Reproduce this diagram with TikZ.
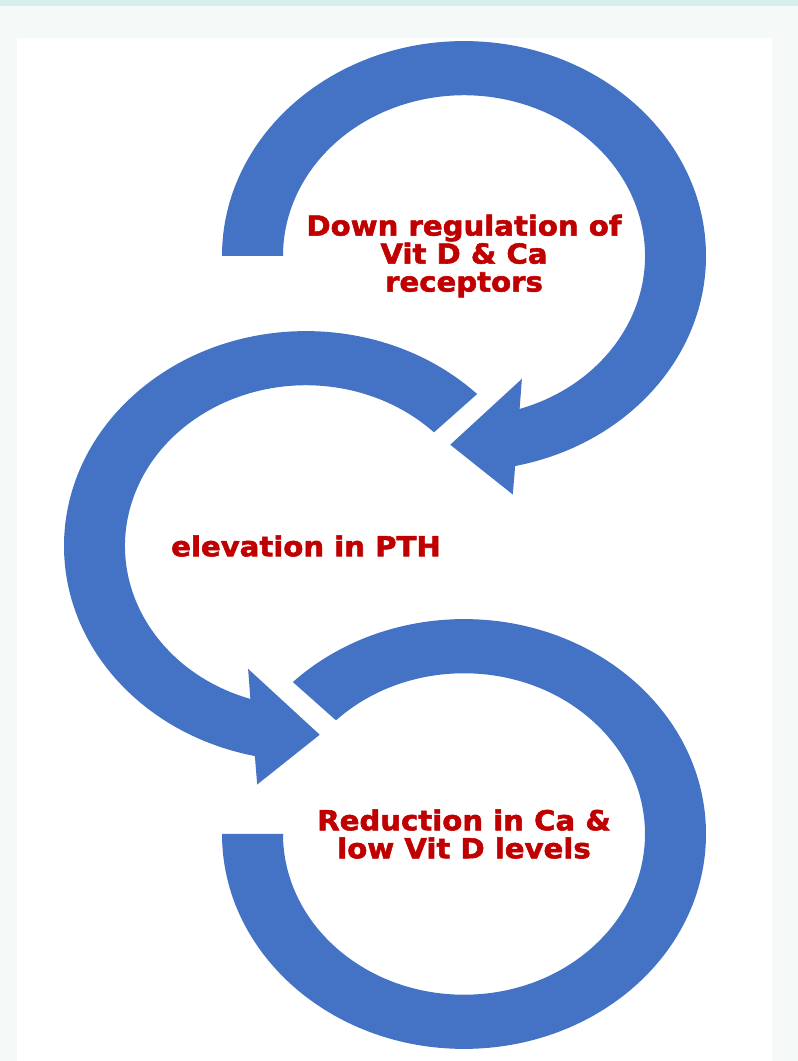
\documentclass[tikz,border=0pt]{standalone}
\usepackage{xcolor}
\usepackage{fontspec}
\newfontfamily\cyclefont{DejaVu Sans}[FakeStretch=1.06, FakeBold=2]

\definecolor{ringblue}{HTML}{4472C4}
\definecolor{textred}{HTML}{C00000}
\definecolor{pagebg}{HTML}{F5F9F8}
\definecolor{topband}{HTML}{D5EFEC}

\tikzset{
  ring/.style={fill=ringblue, draw=none},
  steptext/.style={text=textred, align=center, inner sep=0pt,
    font=\cyclefont\bfseries\fontsize{27.5}{28}\selectfont}
}

\begin{document}
\begin{tikzpicture}[x=1pt, y=1pt] % Tikz environment
\fill[pagebg] (0,0) rectangle (798,1061);
\fill[topband] (0,1055) rectangle (798,1061);
\fill[white] (17,0) rectangle (772,1023);
\useasboundingbox (0,0) rectangle (798,1061);

\node[steptext] (down) at (464,805) {Down regulation of\\Vit D \& Ca\\receptors};
\node[steptext] (pth) at (306,515) {elevation in PTH};
\node[steptext] (low) at (464,227) {Reduction in Ca \&\\low Vit D levels};

% top ring, clockwise, head pointing into the middle ring
\begin{scope}[shift={(down.center)}, yscale=0.888]
\fill[ring] (180:242) arc[start angle=180, end angle=-77.8, radius=242]
  -- (-79.7:273) -- (-93.7:213) -- (-67.3:150) -- (-72.1:181)
  arc[start angle=-72.1, end angle=180, radius=181] -- cycle;
\end{scope}

% middle ring, anticlockwise
\begin{scope}[shift={(pth.center)}, yscale=0.888]
\fill[ring] (45:242) arc[start angle=45, end angle=257.8, radius=242]
  -- (259.7:273) -- (273.7:213) -- (247.3:150) -- (252.1:181)
  arc[start angle=252.1, end angle=45, radius=181] -- cycle;
\end{scope}

% bottom ring, no head
\begin{scope}[shift={(low.center)}, yscale=0.888]
\fill[ring] (180:242) arc[start angle=180, end angle=495, radius=242]
  -- (135:181) arc[start angle=135, end angle=-180, radius=181] -- cycle;
\end{scope}
\end{tikzpicture}
\end{document}
